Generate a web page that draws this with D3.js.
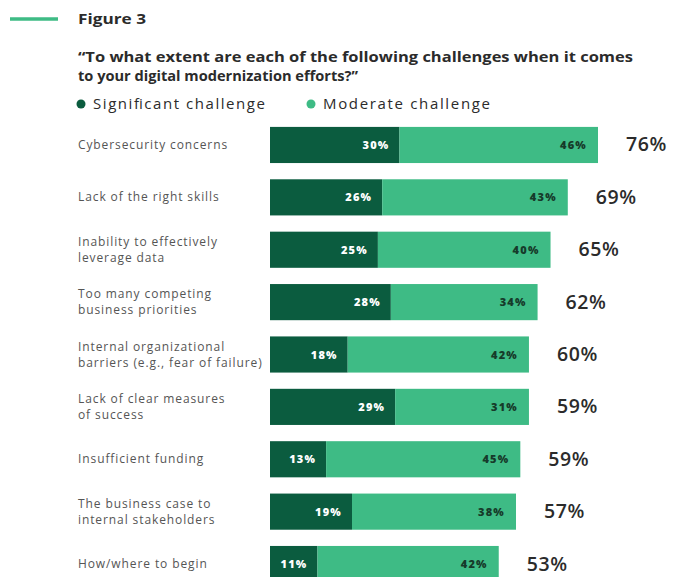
<!DOCTYPE html>
<html>
<head>
<meta charset="utf-8">
<script src="https://cdn.jsdelivr.net/npm/d3@7"></script>
<style>
  html, body { margin: 0; padding: 0; background: #fff; }
  svg { display: block; font-family: "Open Sans", "Liberation Sans", sans-serif; }
</style>
</head>
<body>
<svg id="chart" width="683" height="577"></svg>
<script>
// Survey categories (each entry is a list of label lines)
const categories = [
  ["Cybersecurity concerns"],
  ["Lack of the right skills"],
  ["Inability to effectively", "leverage data"],
  ["Too many competing", "business priorities"],
  ["Internal organizational", "barriers (e.g., fear of failure)"],
  ["Lack of clear measures", "of success"],
  ["Insufficient funding"],
  ["The business case to", "internal stakeholders"],
  ["How/where to begin"]
];
const significant = [30, 26, 25, 28, 18, 29, 13, 19, 11];
const moderate    = [46, 43, 40, 34, 42, 31, 45, 38, 42];
const totals      = [76, 69, 65, 62, 60, 59, 59, 57, 53];
const seriesNames = ["Significant challenge", "Moderate challenge"];

const colors = { significant: "#0b5c3f", moderate: "#3ebb85", text: "#2b2b2b", label: "#555" };

const svg = d3.select("#chart");

// Header
svg.append("line")
  .attr("x1", 10).attr("x2", 58).attr("y1", 19).attr("y2", 19)
  .attr("stroke", colors.moderate).attr("stroke-width", 3.5);
svg.append("text")
  .attr("x", 78).attr("y", 24)
  .attr("font-size", 15).attr("font-weight", 700).attr("fill", colors.text)
  .attr("textLength", 68).attr("lengthAdjust", "spacingAndGlyphs")
  .text("Figure 3");
const q = ["\u201CTo what extent are each of the following challenges when it comes",
           "to your digital modernization efforts?\u201D"];
const qLen = [555, 280];
svg.selectAll("text.q").data(q).enter().append("text")
  .attr("class", "q")
  .attr("x", 78).attr("y", (d, i) => 62 + i * 19)
  .attr("font-size", 14.2).attr("font-weight", 700).attr("fill", colors.text)
  .attr("textLength", (d, i) => qLen[i])
  .attr("lengthAdjust", "spacingAndGlyphs")
  .text(d => d);

// Legend
const legendX = [81, 311];
const legendLen = [172, 167];
seriesNames.forEach((name, i) => {
  svg.append("circle")
    .attr("cx", legendX[i]).attr("cy", 104).attr("r", 4.5)
    .attr("fill", i === 0 ? colors.significant : colors.moderate);
  svg.append("text")
    .attr("x", legendX[i] + 12).attr("y", 109)
    .attr("font-size", 15).attr("fill", colors.text)
    .attr("textLength", legendLen[i]).attr("lengthAdjust", "spacing")
    .text(name);
});

// Scales
const x = d3.scaleLinear().domain([0, 76]).range([270, 598]);
const y = d3.scaleBand().domain(d3.range(categories.length))
  .range([118, 591]).paddingInner(0.31).paddingOuter(0.17);

const rows = svg.selectAll("g.row").data(categories).enter().append("g")
  .attr("class", "row");

// Category labels
rows.each(function(lines, i) {
  const cy = y(i) + y.bandwidth() / 2;
  const t = d3.select(this).append("text")
    .attr("x", 78).attr("font-size", 12).attr("fill", colors.label)
    .attr("letter-spacing", 0.9);
  lines.forEach((ln, k) => {
    t.append("tspan")
      .attr("x", 78)
      .attr("y", cy + 4 + (k - (lines.length - 1) / 2) * 16)
      .text(ln);
  });
});

// Significant segment
rows.append("rect")
  .attr("x", x(0)).attr("y", (d, i) => y(i))
  .attr("width", (d, i) => x(significant[i]) - x(0))
  .attr("height", y.bandwidth())
  .attr("fill", colors.significant);

// Moderate segment
rows.append("rect")
  .attr("x", (d, i) => x(significant[i]))
  .attr("y", (d, i) => y(i))
  .attr("width", (d, i) => x(significant[i] + moderate[i]) - x(significant[i]))
  .attr("height", y.bandwidth())
  .attr("fill", colors.moderate);

// Segment value labels
rows.append("text")
  .attr("x", (d, i) => x(significant[i]) - 10)
  .attr("y", (d, i) => y(i) + y.bandwidth() / 2 + 4)
  .attr("text-anchor", "end")
  .attr("font-size", 11).attr("font-weight", 800).attr("fill", "#fff")
  .attr("letter-spacing", 1.2)
  .text((d, i) => significant[i] + "%");
rows.append("text")
  .attr("x", (d, i) => x(significant[i] + moderate[i]) - 11)
  .attr("y", (d, i) => y(i) + y.bandwidth() / 2 + 4)
  .attr("text-anchor", "end")
  .attr("font-size", 11).attr("font-weight", 800).attr("fill", "#163a2a")
  .attr("letter-spacing", 1.2)
  .text((d, i) => moderate[i] + "%");

// Totals
rows.append("text")
  .attr("x", (d, i) => x(significant[i] + moderate[i]) + 28)
  .attr("y", (d, i) => y(i) + y.bandwidth() / 2 + 6.5)
  .attr("font-size", 19.5).attr("font-weight", 600).attr("fill", colors.text)
  .attr("letter-spacing", 0.6)
  .text((d, i) => totals[i] + "%");
</script>
</body>
</html>
